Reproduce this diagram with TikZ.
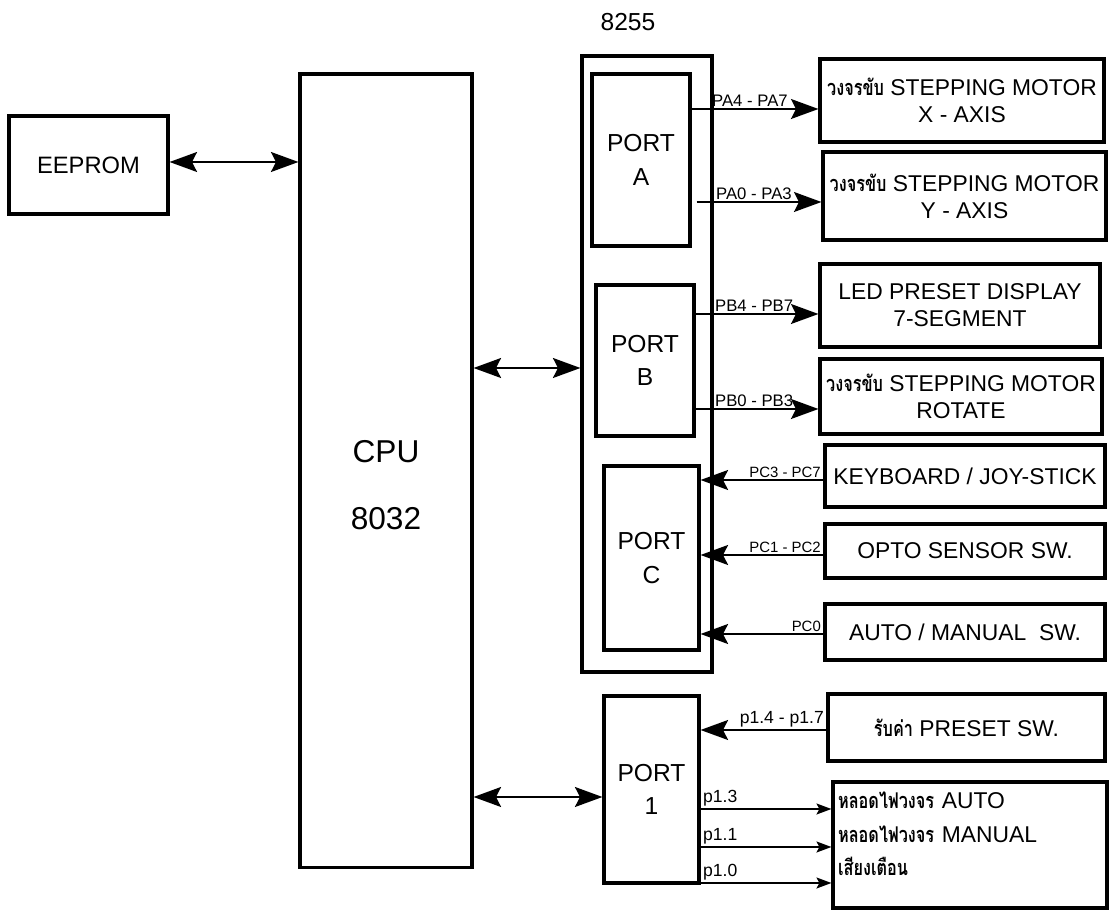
\documentclass[tikz,border=0pt]{standalone}
\usepackage{fontspec}
\setmainfont{Liberation Sans}
\newfontfamily\thaifont[Script=Thai,Scale=0.95,FakeStretch=0.75]{Loma}
\newcommand{\thtxt}[1]{{\thaifont\bfseries #1}}
\usetikzlibrary{arrows.meta, positioning}

\begin{document}
\begin{tikzpicture}[x=0.02cm, y=-0.02cm,
    box/.style={draw, line width=1.8pt, align=center, inner sep=0pt, font=\fontsize{13}{15.5}\selectfont},
    portbox/.style={box, font=\fontsize{14}{19}\selectfont},
    arr/.style={line width=1pt, -{Stealth[length=5.5mm, width=4mm, inset=1mm]}},
    sarr/.style={line width=1pt, -{Stealth[length=3mm, width=2.2mm, inset=0.6mm]}},
    darr/.style={line width=1pt, {Stealth[length=5.5mm, width=4mm, inset=1mm]}-{Stealth[length=5.5mm, width=4mm, inset=1mm]}},
    lbl/.style={inner sep=1pt, font=\fontsize{9.5}{11}\selectfont},
    clbl/.style={inner sep=1pt, font=\fontsize{8.5}{10}\selectfont},
    plbl/.style={inner sep=1pt, font=\fontsize{10}{12}\selectfont},
  ]
  \useasboundingbox (0,0) rectangle (1110,911);

  \node[box, minimum width=3.18cm, minimum height=1.96cm, font=\fontsize{13.5}{16}\selectfont] (eeprom) at (88.5,165) {EEPROM};
  \node[box, minimum width=3.44cm, minimum height=15.88cm] (cpu) at (386,471) {};
  \node[align=center, font=\fontsize{18}{38}\selectfont] (cputext) at (386,485) {CPU\\8032};

  \node[font=\fontsize{14}{17}\selectfont] (chipname) at (628,22) {8255};
  \node[box, minimum width=2.6cm, minimum height=12.32cm] (chip) at (647,364) {};
  \node[portbox, minimum width=1.96cm, minimum height=3.44cm] (porta) at (641,160) {PORT\\A};
  \node[portbox, minimum width=1.96cm, minimum height=3.02cm] (portb) at (645,360.5) {PORT\\B};
  \node[portbox, minimum width=1.9cm, minimum height=3.68cm] (portc) at (651.5,558) {PORT\\C};
  \node[portbox, minimum width=1.9cm, minimum height=3.74cm] (port1) at (651.5,789.5) {PORT\\1};

  \node[box, minimum width=5.68cm, minimum height=1.66cm] (xaxis) at (962,100.5) {\thtxt{วงจรขับ} STEPPING MOTOR\\X - AXIS};
  \node[box, minimum width=5.66cm, minimum height=1.76cm] (yaxis) at (964.5,196) {\thtxt{วงจรขับ} STEPPING MOTOR\\Y - AXIS};
  \node[box, minimum width=5.6cm, minimum height=1.66cm] (led) at (960,305.5) {LED PRESET DISPLAY\\7-SEGMENT};
  \node[box, minimum width=5.64cm, minimum height=1.5cm] (rotate) at (961,396.5) {\thtxt{วงจรขับ} STEPPING MOTOR\\ROTATE};
  \node[box, minimum width=5.6cm, minimum height=1.24cm] (keyboard) at (965,476) {KEYBOARD / JOY-STICK};
  \node[box, minimum width=5.6cm, minimum height=1.08cm] (opto) at (965,551) {OPTO SENSOR SW.};
  \node[box, minimum width=5.6cm, minimum height=1.12cm] (auto) at (965,632) {AUTO / MANUAL~ SW.};
  \node[box, minimum width=5.54cm, minimum height=1.34cm] (preset) at (966.5,727.5) {\thtxt{รับค่า} PRESET SW.};
  \node[box, minimum width=5.48cm, minimum height=2.52cm] (big) at (970,845) {};
  \node[text width=5.28cm, inner sep=0pt, align=left, font=\fontsize{13}{19}\selectfont] (bigtext) at (970,834)
    {\thtxt{หลอดไฟวงจร} AUTO\\\thtxt{หลอดไฟวงจร} MANUAL\\\thtxt{เสียงเตือน}};

  \draw[darr] (eeprom.east |- 0,162) -- (cpu.west |- 0,162);
  \draw[darr] (cpu.east |- 0,368) -- (chip.west |- 0,368);
  \draw[darr] (cpu.east |- 0,797) -- (port1.west |- 0,797);

  \draw[arr] (porta.east |- 0,109) -- (xaxis.west |- 0,109) node[lbl, pos=0, anchor=south west, xshift=0.36cm] {PA4 - PA7};
  \draw[arr] ([xshift=0.1cm]porta.east |- 0,202) -- (yaxis.west |- 0,202) node[lbl, pos=0, anchor=south west, xshift=0.34cm] {PA0 - PA3};
  \draw[arr] (portb.east |- 0,314) -- (led.west |- 0,314) node[lbl, pos=0, anchor=south west, xshift=0.34cm] {PB4 - PB7};
  \draw[arr] (portb.east |- 0,409) -- (rotate.west |- 0,409) node[lbl, pos=0, anchor=south west, xshift=0.34cm] {PB0 - PB3};

  \draw[arr] (keyboard.west |- 0,480) -- (portc.east |- 0,480) node[clbl, pos=0, anchor=south east] {PC3 - PC7};
  \draw[arr] (opto.west |- 0,555) -- (portc.east |- 0,555) node[clbl, pos=0, anchor=south east] {PC1 - PC2};
  \draw[arr] (auto.west |- 0,634) -- (portc.east |- 0,634) node[clbl, pos=0, anchor=south east] {PC0};

  \draw[arr] (preset.west |- 0,730) -- (port1.east |- 0,730) node[plbl, pos=0, anchor=south east] {p1.4 - p1.7};
  \draw[sarr] (port1.east |- 0,809) -- (big.west |- 0,809) node[plbl, pos=0, anchor=south west] {p1.3};
  \draw[sarr] (port1.east |- 0,847) -- (big.west |- 0,847) node[plbl, pos=0, anchor=south west] {p1.1};
  \draw[sarr] (port1.east |- 0,883) -- (big.west |- 0,883) node[plbl, pos=0, anchor=south west] {p1.0};
\end{tikzpicture}
\end{document}
